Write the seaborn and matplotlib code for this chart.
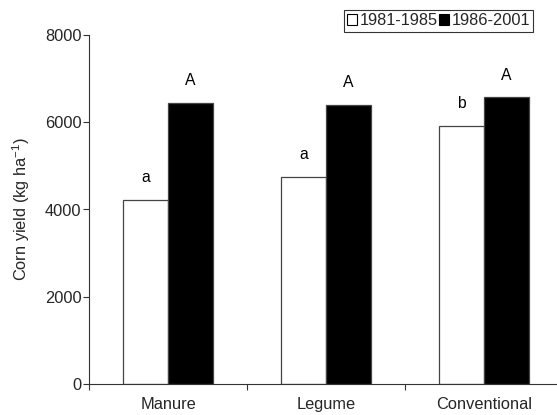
import matplotlib
matplotlib.use("Agg")
import matplotlib.pyplot as plt
import seaborn as sns
import pandas as pd
from matplotlib.patches import Patch

categories = ["Manure", "Legume", "Conventional"]
periods = ["1981-1985", "1986-2001"]
yield_1981_1985 = [4220, 4750, 5920]
yield_1986_2001 = [6450, 6400, 6570]
letters_1981_1985 = ["a", "a", "b"]
letters_1986_2001 = ["A", "A", "A"]
y_ticks = [0, 2000, 4000, 6000, 8000]

sns.set_theme(style="ticks")
plt.rcParams["font.family"] = ["Liberation Sans", "DejaVu Sans"]
plt.rcParams["mathtext.fontset"] = "custom"
plt.rcParams["mathtext.rm"] = "Liberation Sans"
plt.rcParams["mathtext.it"] = "Liberation Sans:italic"

FS = 11.8

df = pd.DataFrame({
    "Treatment": categories * 2,
    "Period": [periods[0]] * 3 + [periods[1]] * 3,
    "Yield": yield_1981_1985 + yield_1986_2001,
})

fig = plt.figure(figsize=(5.57, 4.15), dpi=100)
ax = fig.add_axes([89 / 557, 31 / 415, 474 / 557, 349 / 415])

sns.barplot(data=df, x="Treatment", y="Yield", hue="Period", order=categories,
            hue_order=periods, palette=["white", "black"], width=0.57,
            edgecolor="#444444", linewidth=0.9, ax=ax, legend=False, errorbar=None)

# letters
for i, cat in enumerate(categories):
    for j, (vals, lets) in enumerate([(yield_1981_1985, letters_1981_1985),
                                      (yield_1986_2001, letters_1986_2001)]):
        xpos = i + (-0.1425 if j == 0 else 0.1425)
        ax.annotate(lets[i], (xpos, vals[i]), xytext=(0, 16), textcoords="offset points",
                    ha="center", va="center", fontsize=11.3, color="black")

ax.set_xlim(-0.5, 2.5)
ax.set_ylim(0, 8000)
ax.set_yticks(y_ticks)
ax.set_yticklabels([str(v) for v in y_ticks], fontsize=FS)
ax.set_xticks([-0.5, 0.5, 1.5, 2.5])
ax.set_xticklabels([])
ax.set_xticks([0, 1, 2], minor=True)
ax.set_xticklabels(categories, minor=True, fontsize=FS)
ax.tick_params(axis="x", which="minor", length=0, pad=9.5)
ax.tick_params(axis="x", which="major", length=4, width=0.8, color="#333333")
ax.tick_params(axis="y", length=4, width=0.8, color="#333333", pad=1.5)
ax.set_xlabel("")
ax.set_ylabel("Corn yield (kg ha$^{-1}$)", fontsize=FS, labelpad=9)
for s in ["top", "right"]:
    ax.spines[s].set_visible(False)
for s in ["left", "bottom"]:
    ax.spines[s].set_color("#333333")
    ax.spines[s].set_linewidth(0.8)

handles = [Patch(facecolor="white", edgecolor="black", linewidth=0.8),
           Patch(facecolor="black", edgecolor="black", linewidth=0.8)]
leg = fig.legend(handles, periods, ncol=2, loc="upper left",
                 bbox_to_anchor=(344 / 557, 1 - 10 / 415), fontsize=11.8,
                 handlelength=0.6, handleheight=0.6, handletextpad=0.15,
                 columnspacing=0.1, borderpad=0.2, borderaxespad=0,
                 frameon=True, fancybox=False)
leg.get_frame().set_edgecolor("black")
leg.get_frame().set_linewidth(0.8)

fig.savefig("out.png", dpi=100)
